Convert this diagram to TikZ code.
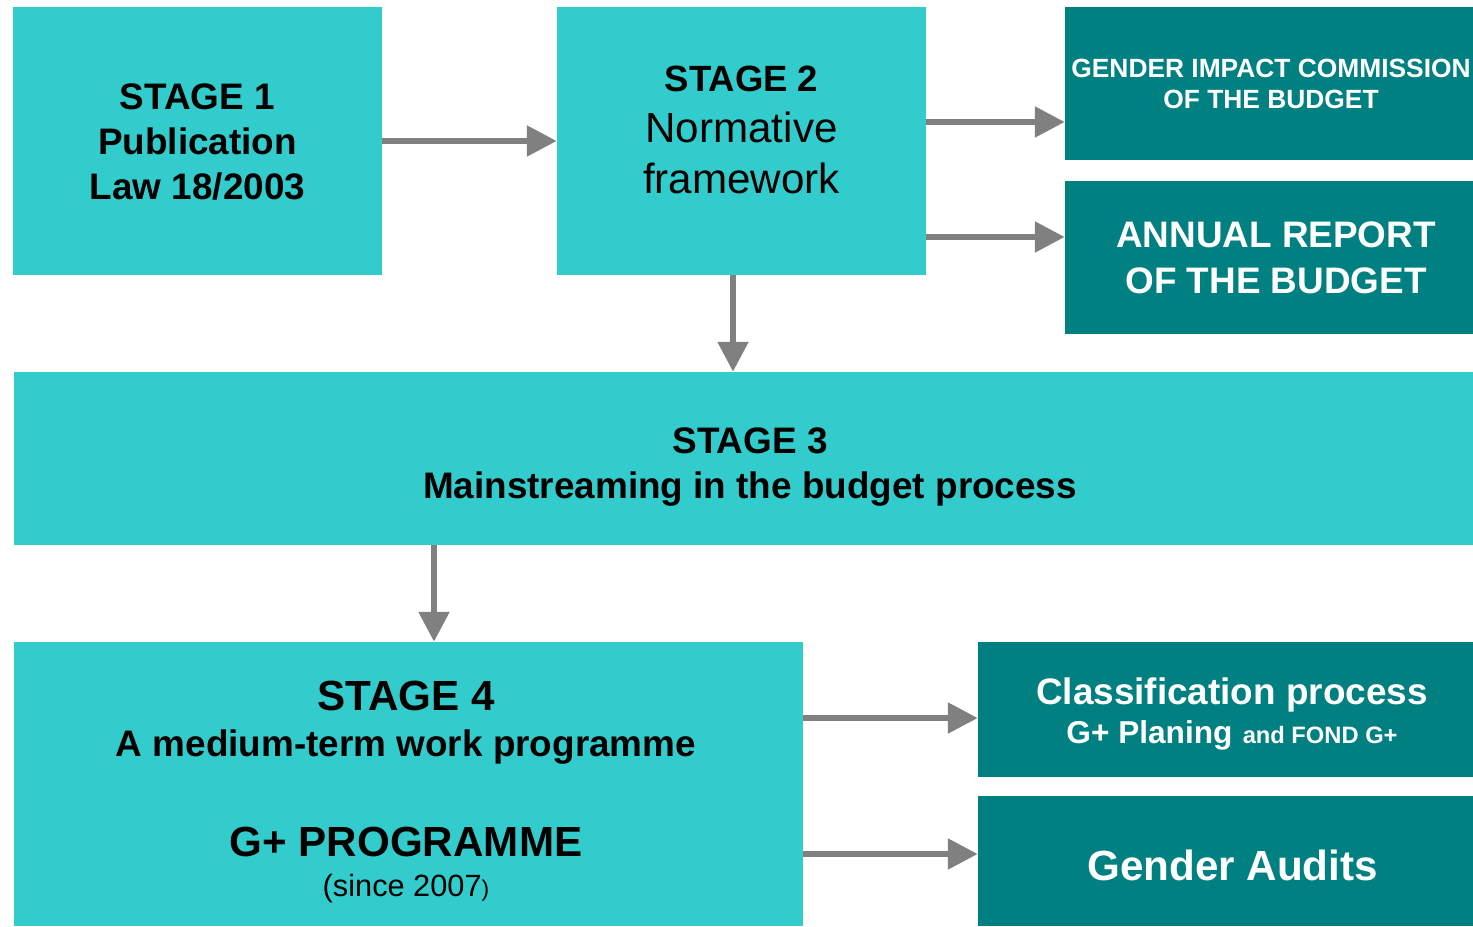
\documentclass[tikz,border=0pt]{standalone}
\usepackage{fontspec}
\setmainfont{Liberation Sans}
\usetikzlibrary{arrows.meta}

\definecolor{stagecyan}{HTML}{33CCCC}
\definecolor{outteal}{HTML}{008080}
\definecolor{flowgray}{HTML}{808080}

\def\fs#1#2{\fontsize{#1}{#2}\selectfont}

\tikzset{
  stagebox/.style={fill=stagecyan, inner sep=0pt},
  outbox/.style={fill=outteal, inner sep=0pt},
  boxtext/.style={align=center, inner sep=0pt},
  flow/.style={flowgray, line width=3.2pt, -{Triangle[length=17pt,width=17pt]}},
}

\begin{document}
\begin{tikzpicture}[x=0.02cm, y=-0.02cm]
  \useasboundingbox (0,0) rectangle (1473,926);

  % boxes
  \node[stagebox, minimum width=7.38cm, minimum height=5.36cm] (s1) at (197.5,141) {};
  \node[stagebox, minimum width=7.38cm, minimum height=5.36cm] (s2) at (741.5,141) {};
  \node[outbox, minimum width=8.16cm, minimum height=3.06cm] (gic) at (1269,83.5) {};
  \node[outbox, minimum width=8.16cm, minimum height=3.06cm] (arb) at (1269,257.5) {};
  \node[stagebox, minimum width=29.18cm, minimum height=3.46cm] (s3) at (743.5,458.5) {};
  \node[stagebox, minimum width=15.78cm, minimum height=5.68cm] (s4) at (408.5,784) {};
  \node[outbox, minimum width=9.9cm, minimum height=2.7cm] (cls) at (1225.5,709.5) {};
  \node[outbox, minimum width=9.9cm, minimum height=2.6cm] (aud) at (1225.5,861) {};

  % texts
  \node[boxtext, font=\bfseries\fs{21}{25.5}] (s1text) at (197.5,142)
    {STAGE 1\\Publication\\Law 18/2003};
  \node[boxtext, font=\fs{24}{29}] (s2text) at (741.5,130)
    {{\bfseries\fs{20.8}{29}STAGE 2}\\Normative\\framework};
  \node[boxtext, white, font=\bfseries\fs{15}{17.6}] (gictext) at (1271,83.5)
    {GENDER IMPACT COMMISSION\\OF THE BUDGET};
  \node[boxtext, white, font=\bfseries\fs{21}{26}] (arbtext) at (1276,258)
    {ANNUAL REPORT\\OF THE BUDGET};
  \node[boxtext, font=\bfseries\fs{21}{25.5}] (s3text) at (750,467)
    {STAGE 3\\Mainstreaming in the budget process};
  \node[boxtext, font=\bfseries\fs{24}{23}] (s4text) at (406,792)
    {STAGE 4\\[3pt]{\fs{21}{23}A medium-term work programme}\\[34pt]
     G+ PROGRAMME\\{\mdseries\fs{17.5}{23}(since 2007{\fs{13}{23})}}};
  \node[boxtext, white, font=\bfseries\fs{21}{22.7}] (clstext) at (1232,714)
    {Classification process\\{\fs{18}{22.7}G+ Planing} {\fs{13.5}{22.7}and FOND G+}};
  \node[boxtext, white, font=\bfseries\fs{24}{28}] (audtext) at (1232.5,865)
    {Gender Audits};

  % arrows
  \draw[flow] (s1) -- (s2);
  \draw[flow] ([yshift=0.38cm]s2.east) -- ([yshift=0.38cm]s2.east -| gic.west);
  \draw[flow] ([yshift=-1.92cm]s2.east) -- ([yshift=-1.92cm]s2.east -| arb.west);
  \draw[flow] ([xshift=-0.17cm]s2.south) -- ([xshift=-0.17cm]s2.south |- s3.north);
  \draw[flow] ([xshift=0.51cm]s4.north |- s3.south) -- ([xshift=0.51cm]s4.north);
  \draw[flow] ([yshift=1.32cm]s4.east) -- ([yshift=1.32cm]s4.east -| cls.west);
  \draw[flow] ([yshift=-1.4cm]s4.east) -- ([yshift=-1.4cm]s4.east -| aud.west);
\end{tikzpicture}
\end{document}
